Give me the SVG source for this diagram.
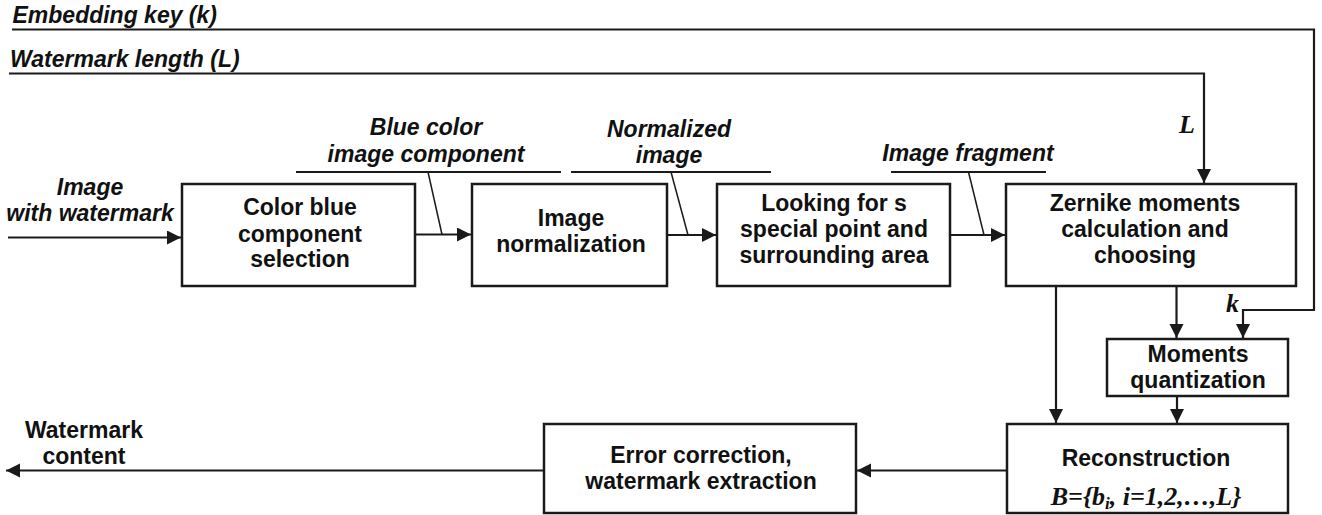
<svg xmlns="http://www.w3.org/2000/svg" width="1322" height="515" viewBox="0 0 1322 515">
<style>
  .box { fill: #fff; stroke: #1a1a1a; stroke-width: 2.5; }
  .ln { fill: none; stroke: #1a1a1a; stroke-width: 2.2; }
  .thin { fill: none; stroke: #1a1a1a; stroke-width: 1.5; }
  .t { font-family: "Liberation Sans", Arial, sans-serif; font-weight: bold; font-size: 23px; fill: #111; text-anchor: middle; }
  .lab { font-family: "Liberation Sans", Arial, sans-serif; font-weight: bold; font-style: italic; font-size: 23px; fill: #111; }
  .m { font-family: "Liberation Serif", "Times New Roman", serif; font-weight: bold; font-style: italic; fill: #111; }
</style>
<defs>
  <marker id="ah" markerUnits="userSpaceOnUse" markerWidth="15" markerHeight="15" refX="14" refY="7" orient="auto">
    <path d="M0,0 L14,7 L0,14 z" fill="#1a1a1a"/>
  </marker>
</defs>
<rect width="1322" height="515" fill="#fff"/>

<g id="connectors">
  <polyline class="ln" points="12,29.5 1314,29.5 1314,310 1243,310 1243,338" marker-end="url(#ah)"/>
  <polyline class="ln" points="9,73.5 1204,73.5 1204,183" marker-end="url(#ah)"/>
  <line class="ln" x1="8" y1="237.5" x2="181" y2="237.5" marker-end="url(#ah)"/>
  <line class="ln" x1="415" y1="234.5" x2="471" y2="234.5" marker-end="url(#ah)"/>
  <line class="ln" x1="667" y1="235" x2="716" y2="235" marker-end="url(#ah)"/>
  <line class="ln" x1="950" y1="235" x2="1005" y2="235" marker-end="url(#ah)"/>
  <line class="ln" x1="1056" y1="286" x2="1056" y2="423" marker-end="url(#ah)"/>
  <line class="ln" x1="1176.5" y1="286" x2="1176.5" y2="338" marker-end="url(#ah)"/>
  <line class="ln" x1="1177" y1="396" x2="1177" y2="423" marker-end="url(#ah)"/>
  <line class="ln" x1="1007" y1="470.5" x2="857" y2="470.5" marker-end="url(#ah)"/>
  <line class="ln" x1="544" y1="470.5" x2="6" y2="470.5" marker-end="url(#ah)"/>
  <line class="ln" x1="296" y1="172" x2="561" y2="172"/>
  <line class="thin" x1="428" y1="172" x2="442" y2="234.5"/>
  <line class="ln" x1="571" y1="172" x2="771" y2="172"/>
  <line class="thin" x1="671" y1="172" x2="688" y2="235"/>
  <line class="ln" x1="891" y1="172" x2="1046" y2="172"/>
  <line class="thin" x1="968.5" y1="172" x2="984" y2="235"/>
</g>

<g id="labels">
  <text class="lab" x="12.5" y="23">Embedding key (k)</text>
  <text class="lab" x="10" y="67">Watermark length (L)</text>
  <text class="lab" x="90" y="195" text-anchor="middle">Image</text>
  <text class="lab" x="90" y="221" text-anchor="middle">with watermark</text>
  <text class="lab" x="426" y="135" text-anchor="middle">Blue color</text>
  <text class="lab" x="426" y="162" text-anchor="middle">image component</text>
  <text class="lab" x="669" y="137" text-anchor="middle">Normalized</text>
  <text class="lab" x="669" y="163" text-anchor="middle">image</text>
  <text class="lab" x="968" y="161" text-anchor="middle">Image fragment</text>
  <text class="m" x="1179" y="133" font-size="26">L</text>
  <text class="m" x="1226" y="312" font-size="26">k</text>
  <text class="t" x="84" y="438">Watermark</text>
  <text class="t" x="84" y="464">content</text>
</g>

<g id="node-color-blue">
  <rect class="box" x="182" y="184" width="233" height="102"/>
  <text class="t" x="300" y="215">Color blue</text>
  <text class="t" x="300" y="242">component</text>
  <text class="t" x="300" y="267">selection</text>
</g>

<g id="node-normalization">
  <rect class="box" x="472" y="184" width="195" height="102"/>
  <text class="t" x="571" y="226">Image</text>
  <text class="t" x="571" y="252">normalization</text>
</g>

<g id="node-special-point">
  <rect class="box" x="717" y="184" width="233" height="102"/>
  <text class="t" x="834" y="211">Looking for s</text>
  <text class="t" x="834" y="237">special point and</text>
  <text class="t" x="834" y="263">surrounding area</text>
</g>

<g id="node-zernike">
  <rect class="box" x="1006" y="184" width="290" height="102"/>
  <text class="t" x="1145" y="211">Zernike moments</text>
  <text class="t" x="1145" y="237">calculation and</text>
  <text class="t" x="1145" y="263">choosing</text>
</g>

<g id="node-quantization">
  <rect class="box" x="1107" y="339" width="181" height="57"/>
  <text class="t" x="1198" y="362">Moments</text>
  <text class="t" x="1198" y="388">quantization</text>
</g>

<g id="node-reconstruction">
  <rect class="box" x="1007" y="424" width="281" height="89"/>
  <text class="t" x="1146" y="466">Reconstruction</text>
  <text class="m" x="1146" y="505" font-size="26" text-anchor="middle">B={b<tspan font-size="17" dy="4">i</tspan><tspan dy="-4">, i=1,2,…,L}</tspan></text>
</g>

<g id="node-error-correction">
  <rect class="box" x="544" y="424" width="312" height="89"/>
  <text class="t" x="701" y="463">Error correction,</text>
  <text class="t" x="701" y="489">watermark extraction</text>
</g>
</svg>
